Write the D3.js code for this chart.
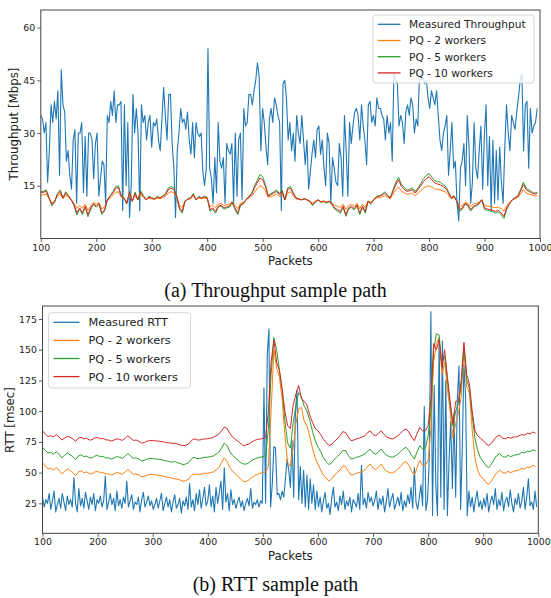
<!DOCTYPE html>
<html>
<head>
<meta charset="utf-8">
<script src="https://cdn.jsdelivr.net/npm/d3@7"></script>
<style>
  body { margin: 0; background: #fff; }
  svg { display: block; }
</style>
</head>
<body>
<svg id="fig" width="551" height="598"></svg>
<script>
// ---- data ----
const xTicks = [100, 200, 300, 400, 500, 600, 700, 800, 900, 1000];
const tpTicks = [15, 30, 45, 60];
const rttTicks = [25, 50, 75, 100, 125, 150, 175];

// (a) measured throughput, evenly spaced samples from packet 100 to 995
const tpMeasured = [
  35,34,30,33,16,25,38,33,39,34,
  42,18,48,38,36,22,25,18,14,
  28,31,10,30,30,33,13,29,12,30,
  30,28,17,27,30,12,17,22,21,
  10,35,33,39,35,42,33,38,38,
  39,8,38,15,33,6,15,41,30,37,
  30,8,38,33,35,28,33,35,26,33,
  32,34,28,25,34,43,35,28,41,41,
  27,20,6,25,30,37,33,34,31,36,
  28,24,33,23,33,30,29,30,19,15,
  20,54,20,17,10,23,13,33,22,20,
  23,10,27,25,24,27,10,30,12,28,
  30,11,37,32,33,41,41,38,42,45,
  50,46,25,37,33,26,21,34,37,33,
  40,38,35,33,8,44,45,40,28,33,
  25,30,22,35,30,27,35,28,21,28,
  14,19,24,28,23,31,32,24,28,20,15,
  30,27,10,23,20,16,15,27,23,12,
  35,25,12,33,27,32,36,37,35,28,38,
  32,28,21,38,39,33,35,32,40,37,
  37,35,34,28,35,30,33,22,47,45,44,
  32,35,33,27,36,38,35,40,38,30,
  34,32,47,45,46,44,45,40,37,42,
  40,38,42,35,28,25,30,32,35,18,
  25,33,20,22,10,5,20,22,27,15,
  35,26,10,16,33,20,17,25,32,14,
  29,38,15,29,8,28,10,25,11,26,
  16,10,26,38,30,25,35,33,31,36,
  40,45,47,25,38,39,20,37,30,32,
  33,37
];

// (a) PQ estimates, every 5 packets from 100 to 995
const tpPQ2 = [
  12.2,12.5,12.6,11.3,10.1,10.7,12,12.7,11.3,12.3,
  11.7,11,10,8.5,9.4,8.6,9.8,8,9.3,10.2,
  9.8,10.2,8.4,9,10.8,11.5,12.2,13.1,13.3,11.7,
  11.3,10.4,12.4,10.7,12.2,11,12.5,11.7,11,11.5,
  11.3,11.1,11.5,11.3,11.6,12,13,13.3,13,11.7,
  9.5,8.8,10.7,11.1,11.3,12,11,11.5,11.3,11.5,
  11.3,9,9.5,8.8,9.8,10,9.4,9.6,9.8,10.5,
  9.4,8.5,10,10.3,11,11.5,12,13.1,14.2,15,
  14.6,13.5,11.7,12,12.2,12.6,12,12.6,11,13,
  13.3,12.2,11.3,11.1,11,11.2,11,10.7,10,10.6,
  10.9,10.5,10.7,10.4,10.6,10.1,9.4,9.2,8.8,9.8,
  8.3,9.4,9.7,9.2,10,8.5,9.8,8.8,10.7,10.3,
  11,11.5,11.6,11.8,12.2,11.8,11.3,12.6,13.9,14.6,
  13.5,13,12.6,12.7,12.9,12.2,12.9,13.6,14.3,14.8,
  15,14.6,14.1,14,13.8,13.5,13.2,12.4,11.3,11.7,
  10.7,9.1,9.4,10.3,10,9.1,9.8,10,10.3,11,
  9.4,9.2,9.1,8.9,8.8,8.9,8.5,7.8,9.4,10.3,
  11,11.3,11.7,12.7,13.9,12.9,12.6,12.4,12.1,12.2
];
const tpPQ5 = [
  13.2,13.5,13.8,11.6,9.3,10.4,12.8,13.8,11.6,13.3,
  12.2,11,9.3,6.7,8.3,6.8,8.9,6.2,8.3,9.7,
  8.9,9.7,6.8,7.8,11,12.2,13.3,14.8,15,12.2,
  11.6,9.8,13.4,10.5,13.2,11,13.6,12.2,11,12,
  11.6,11.3,12,11.6,12.2,12.8,14.4,14.8,14.4,12.2,
  8.3,7.2,10.5,11.3,11.6,12.8,11,12,11.6,12,
  11.7,7.8,8.3,7.2,8.9,9.3,8.3,8.7,8.9,10.2,
  8.3,6.8,9.3,9.8,11,12,12.8,14.8,16.5,18.2,
  17.6,15.4,12.2,12.8,13.3,13.8,12.8,13.8,11,14.4,
  14.8,13.1,11.6,11.3,11,11.4,11,10.5,9.4,10.4,
  11,10.3,10.5,10.1,10.5,9.6,8.3,7.8,7.2,8.9,
  6.3,8.3,8.9,8.1,9.3,6.8,8.9,7.2,10.5,9.8,
  11,12,12.2,12.5,13.3,12.4,11.6,13.8,16,17.4,
  15.4,14.5,13.8,14,14.4,13.3,14.4,15.6,17,18,
  18.5,17.5,16.5,16.2,16,15.4,14.8,13.3,11.6,12.2,
  10.5,7.8,8.3,9.8,9.3,7.8,8.9,9.3,9.8,11,
  8.3,8,7.8,7.6,7.2,7.6,6.8,5.7,8.3,9.8,
  11,11.6,12.2,13.9,16,14.4,13.8,13.3,12.9,13.2
];
const tpPQ10 = [
  12.9,13.2,13.4,11.5,9.6,10.5,12.5,13.4,11.5,13,
  12,11,9.6,7.3,8.7,7.3,9.2,6.8,8.7,9.9,
  9.2,9.9,7.3,8.2,11,12,12.9,14.3,14.5,12,
  11.5,10,13.1,10.6,12.9,11,13.2,12,11,11.8,
  11.5,11.2,11.8,11.5,12,12.5,13.9,14.3,13.9,12,
  8.7,7.7,10.6,11.2,11.5,12.5,11,11.8,11.5,11.8,
  11.5,8.2,8.7,7.7,9.2,9.5,8.7,9,9.2,10.3,
  8.7,7.3,9.6,10,11,11.8,12.5,14.3,15.8,17.2,
  16.7,14.8,12,12.5,12.9,13.4,12.5,13.4,11,13.9,
  14.3,12.8,11.5,11.2,11,11.3,11,10.6,9.6,10.5,
  11,10.4,10.6,10.2,10.6,9.8,8.7,8.2,7.7,9.2,
  6.8,8.7,9.2,8.5,9.6,7.3,9.2,7.7,10.6,10,
  11,11.8,12,12.3,12.9,12.2,11.5,13.4,15.3,16.7,
  14.8,14,13.4,13.6,13.9,12.9,13.9,15,16.2,17,
  17.6,16.7,15.8,15.5,15.3,14.8,14.3,13,11.5,12,
  10.6,8.2,8.7,10,9.6,8.2,9.2,9.5,10,11,
  8.7,8.4,8.2,8,7.7,8,7.3,6.3,8.7,10,
  11,11.5,12,13.5,15.3,13.9,13.4,13,12.6,12.9
];

// (b) measured RTT, every 3 packets from 100 to 997
const rttMeasured = [
  30,22,28,25,33,20,27,35,18,24,29,21,33,26,19,31,24,28,22,46,25,18,37,23,29,21,34,27,20,30,24,33,19,28,
  25,31,22,27,47,20,26,33,24,29,19,35,23,28,21,30,25,43,22,27,32,20,26,24,30,18,28,34,22,26,31,23,27,20,
  24,29,21,27,33,19,25,30,22,28,18,26,32,21,24,29,17,27,23,30,20,41,22,28,19,33,24,36,21,29,38,23,27,
  40,22,31,18,38,25,34,43,20,54,26,33,19,36,24,28,21,26,30,22,27,19,25,29,23,37,21,26,24,28,22,27,25,
  119,25,146,167,22,40,71,70,32,33,28,35,30,45,61,52,38,76,30,98,117,28,55,25,52,22,48,20,45,25,40,20,35,22,
  30,18,27,34,21,25,16,29,38,22,26,19,31,24,35,20,27,23,30,18,28,25,22,33,20,56,24,29,21,34,26,30,23,
  27,35,20,29,24,31,18,26,37,22,28,33,20,25,30,23,34,19,27,22,32,25,38,21,54,26,20,30,40,23,104,19,28,
  60,181,15,121,40,15,160,30,157,20,125,15,60,92,37,98,30,110,137,20,70,138,111,15,35,22,30,18,28,35,22,27,20,
  29,22,33,18,26,31,24,37,20,28,23,34,19,27,30,22,36,25,18,29,24,33,21,27,38,20,30,45,23,26,20,35,22
];

// (b) PQ estimates, every 5 packets from 100 to 995
const rttPQ2 = [
  58,55.5,53,53.5,52,54,52,49,51,53,
  51.5,50,47.5,50.5,51.5,50,50.5,49,49,50.5,
  51,50,50,49,49,48,49,50,49.5,48.5,
  50.5,52.5,50.5,48.5,49,48,46.5,47,48,48.5,
  48.5,48,48,47.5,47,46.5,46,45.5,45,44.5,
  44,43,43.5,44.5,47.5,49,48.5,48.5,49,49.5,
  49.5,50,50.5,52,54,58,62,59,54,51,
  49,47,44.5,42.5,43,44,46,47.5,48.5,49.5,
  50,50.5,55,100,150,135,128,110,80,58,
  55,70,90,102,103,92,88,80,70,62,
  57,52,48,45.5,43,45,48,50,52,55.5,
  55,51,48,48.5,49.5,50,51,52,55,57,
  53.5,52.5,54.5,57,53,51,50,49.5,51,53,
  55,58,59,56,51,48,54,60,56,56,
  60,85,140,155,160,130,140,118,100,78,
  90,98,112,150,120,115,85,62,52,47,
  45,42,40.5,43,47,50,52,50,49.5,51,
  50,51,51.5,52,53.5,53,54.5,54,56,55
];
const rttPQ5 = [
  70.6,68,66,66.5,65,67,65,62,64,66,
  64.5,63,60.5,63.5,64.5,63,63.5,62,62,63.5,
  64,63,63,62,62,61,62,63,62.5,61.5,
  63.5,65.5,63.5,61.5,62,61,59.5,60,61,61.5,
  61.5,61,61,60.5,60,59.5,59,58.5,59,58,
  57.5,56.5,57,58,61,62.5,61.5,61.5,62,62.5,
  62.5,63,63.5,65,66.5,70,74,72,67,64,
  62,60,58,57,57,58,60,61,62,62.5,
  63,63.5,85,130,160,150,134,118,92,74,
  70,90,105,115,112,104,100,93,84,76,
  71,67,62,59,56.5,58,61,63,65,68,
  68,64,61,61.5,62.5,63,64,65,67.5,69,
  66,65,67,69,66,64,63,62.5,63.5,65,
  67,69.5,70.5,68,64,61,67,72,69,70,
  80,100,150,163,162,138,145,125,105,88,
  100,106,120,153,126,118,96,78,68,62,
  59,55.5,54,57,61,64,65.5,63,62.5,64,
  63,64,64.5,65,66.5,66,67.5,67,68.5,67.5
];
const rttPQ10 = [
  84,81.4,79.3,80,79,81,79,76.5,78,79.5,
  78.8,77.5,75.5,78,78.8,77.5,78,76.5,76.7,78.2,
  78.5,77.5,77.8,76.7,76.5,75.7,76.5,77.5,77,76.2,
  78,80,78,76.2,76.5,75.5,74,74.5,75.7,76,
  76.2,75.8,75.7,75.2,75,74.5,74.2,73.8,74,73.3,
  72.5,72,72.2,73.3,76,77.5,76.7,76.5,77,77.5,
  77.5,78,78.7,80,81.4,84,87,86,82,79,
  77,75.5,73.5,72,72.5,73.4,75,76.2,77,77.3,
  77.8,78.5,100,140,158,140,133,118,100,88,
  86,105,114,121,110,108,105,97,91,86,
  84,81,77,74.5,72,73,75.5,77.4,80,83.3,
  82.7,79,76,76.5,77.4,78,79,80,82.5,84,
  81,80,82,84,81,79,78,77.4,78.5,80,
  82,84.5,85.5,83,79,76,82,86.8,84,84,
  88,110,155,150,158,136,150,128,108,90,
  108,108,125,156,130,122,100,84,80,78,
  76,73.5,72,74,77,79.5,80.5,78,77.5,78.7,
  78,79,79,80,81,80.5,82,81.5,83,82
];

const seriesNames = {
  tp: ["Measured Throughput", "PQ - 2 workers", "PQ - 5 workers", "PQ - 10 workers"],
  rtt: ["Measured RTT", "PQ - 2 workers", "PQ - 5 workers", "PQ - 10 workers"]
};
const colors = ["#1f77b4", "#ff7f0e", "#2ca02c", "#d62728"];

// ---- drawing ----
const svg = d3.select("#fig");
const sans = "'DejaVu Sans', sans-serif";
const serif = "'Liberation Serif', 'Times New Roman', serif";

function stepped(values, start, step) {
  return values.map((v, i) => [start + i * step, v]);
}

function panel(cfg) {
  const x = d3.scaleLinear().domain([100, 1000]).range([cfg.left, cfg.right]);
  const y = d3.scaleLinear().domain(cfg.yDomain).range([cfg.bottom, cfg.top]);
  const g = svg.append("g");

  const clipId = "clip-" + cfg.id;
  g.append("clipPath").attr("id", clipId)
    .append("rect")
    .attr("x", cfg.left).attr("y", cfg.top)
    .attr("width", cfg.right - cfg.left).attr("height", cfg.bottom - cfg.top);

  const line = d3.line().x(d => x(d[0])).y(d => y(d[1]));
  const lines = g.append("g").attr("clip-path", `url(#${clipId})`);
  cfg.series.forEach((s, i) => {
    lines.append("path")
      .datum(s)
      .attr("d", line)
      .attr("fill", "none")
      .attr("stroke", colors[i])
      .attr("stroke-width", i === 0 ? 1.1 : 1)
      .attr("stroke-linejoin", "round");
  });

  // axes
  const xAxis = d3.axisBottom(x).tickValues(xTicks).tickFormat(d3.format("d"))
    .tickSize(3.5).tickPadding(2);
  const yAxis = d3.axisLeft(y).tickValues(cfg.yTicks).tickFormat(d3.format("d"))
    .tickSize(3.5).tickPadding(2);
  const gx = g.append("g").attr("transform", `translate(0,${cfg.bottom})`).call(xAxis);
  const gy = g.append("g").attr("transform", `translate(${cfg.left},0)`).call(yAxis);
  [gx, gy].forEach(a => {
    a.select(".domain").remove();
    a.selectAll("line").attr("stroke", "#333").attr("stroke-width", 0.8);
    a.selectAll("text").attr("font-family", sans).attr("font-size", "9.4px").attr("fill", "#222");
  });

  g.append("rect")
    .attr("x", cfg.left).attr("y", cfg.top)
    .attr("width", cfg.right - cfg.left).attr("height", cfg.bottom - cfg.top)
    .attr("fill", "none").attr("stroke", "#444").attr("stroke-width", 1);

  g.append("text")
    .attr("x", (cfg.left + cfg.right) / 2).attr("y", cfg.xLabelY)
    .attr("text-anchor", "middle")
    .attr("font-family", sans).attr("font-size", "11.8px").attr("fill", "#222")
    .text("Packets");

  g.append("text")
    .attr("transform", `translate(${cfg.yLabelX},${cfg.yLabelMid}) rotate(-90)`)
    .attr("text-anchor", "middle")
    .attr("font-family", sans).attr("font-size", "11.8px").attr("fill", "#222")
    .text(cfg.yLabel);

  // legend
  const L = cfg.legend;
  const lg = g.append("g");
  lg.append("rect")
    .attr("x", L.x0).attr("y", L.y0)
    .attr("width", L.x1 - L.x0).attr("height", L.y1 - L.y0)
    .attr("rx", 3)
    .attr("fill", "#fff").attr("fill-opacity", 0.8)
    .attr("stroke", "#ccc").attr("stroke-width", 0.8);
  cfg.names.forEach((name, i) => {
    const ry = L.row0 + i * L.rowStep;
    lg.append("line")
      .attr("x1", L.lineX0).attr("x2", L.lineX1)
      .attr("y1", ry).attr("y2", ry)
      .attr("stroke", colors[i]).attr("stroke-width", 1.3);
    lg.append("text")
      .attr("x", L.textX).attr("y", ry)
      .attr("dy", "0.36em")
      .attr("font-family", sans).attr("font-size", L.fontSize).attr("fill", "#222")
      .text(name);
  });

  svg.append("text")
    .attr("x", 275.5).attr("y", cfg.captionY)
    .attr("text-anchor", "middle")
    .attr("font-family", serif).attr("font-size", "20px").attr("fill", "#111")
    .text(cfg.caption);
}

panel({
  id: "tp",
  left: 40.8, right: 540, top: 10, bottom: 238.5,
  yDomain: [0, 65], yTicks: tpTicks,
  series: [
    stepped(tpMeasured, 100, 895 / (tpMeasured.length - 1)),
    stepped(tpPQ2, 100, 5),
    stepped(tpPQ5, 100, 5),
    stepped(tpPQ10, 100, 5)
  ],
  names: seriesNames.tp,
  xLabelY: 264.5,
  yLabel: "Throughput [Mbps]", yLabelX: 18, yLabelMid: 124,
  legend: { x0: 373, x1: 534, y0: 15, y1: 83, row0: 24.3, rowStep: 16.2,
            lineX0: 377.7, lineX1: 400.5, textX: 409, fontSize: "10.6px" },
  caption: "(a) Throughput sample path", captionY: 297
});

panel({
  id: "rtt",
  left: 42.5, right: 538.3, top: 306, bottom: 533.3,
  yDomain: [0.6, 185.6], yTicks: rttTicks,
  series: [
    stepped(rttMeasured, 100, 3),
    stepped(rttPQ2, 100, 5),
    stepped(rttPQ5, 100, 5),
    stepped(rttPQ10, 100, 5)
  ],
  names: seriesNames.rtt,
  xLabelY: 560,
  yLabel: "RTT [msec]", yLabelX: 14, yLabelMid: 420,
  legend: { x0: 48.5, x1: 190.5, y0: 312.7, y1: 388, row0: 322.3, rowStep: 18.1,
            lineX0: 53.5, lineX1: 79.5, textX: 88.5, fontSize: "11.3px" },
  caption: "(b) RTT sample path", captionY: 591
});
</script>
</body>
</html>
